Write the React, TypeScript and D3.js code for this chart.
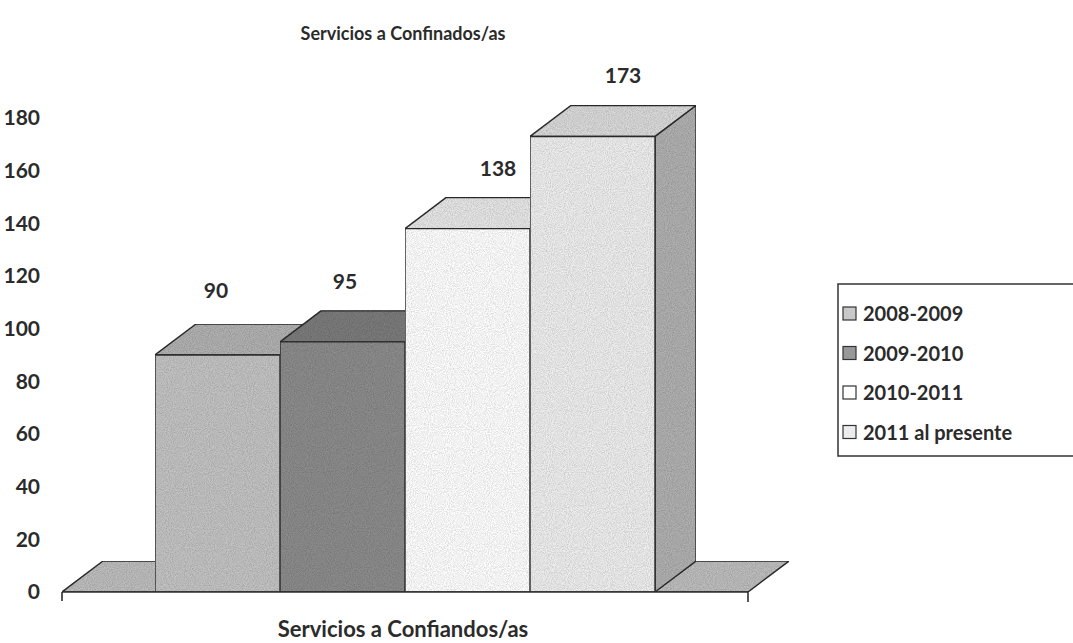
import React from 'react';
import * as d3 from 'd3';

// data
const series = ['2008-2009', '2009-2010', '2010-2011', '2011 al presente'];
const values = [90, 95, 138, 173];
const ticks = [0, 20, 40, 60, 80, 100, 120, 140, 160, 180];
const category = 'Servicios a Confiandos/as';
const title = 'Servicios a Confinados/as';

// face colours per series: front, top, side
const fronts = ['#c3c3c3', '#8c8c8c', '#ffffff', '#eeeeee'];
const tops = ['#b1b1b1', '#7b7b7b', '#e6e6e6', '#d9d9d9'];
const sides = ['#a3a3a3', '#6e6e6e', '#cfcfcf', '#b0b0b0'];
const swatches = ['#c8c8c8', '#989898', '#ffffff', '#ececec'];

const W = 1073;
const H = 643;
const font = 'Lato, "Open Sans", sans-serif';

// depth offset of the 3D boxes
const DX = 41;
const DY = -31;

const poly = d3.line().curve(d3.curveLinearClosed);

const App = () => {
  const floorLeft = 62;
  const floorRight = 748;
  const y = d3.scaleLinear().domain([0, 180]).range([592, 118]);
  const x = d3.scaleBand<string>()
    .domain(series)
    .range([floorLeft + 93, floorRight - 93])
    .padding(0);
  const bw = x.bandwidth();
  const y0 = y(0);

  // small nudges for the value labels, as Excel placed them
  const labelNudge = [-22, -18, 10, 10];

  return (
    <svg width={W} height={H} style={{ display: 'block', position: 'absolute', left: 0, top: 0 }}>
      <defs>
        <filter id="grain" x="0" y="0" width="100%" height="100%">
          <feTurbulence type="fractalNoise" baseFrequency="0.95" numOctaves="2" seed="3" result="n" />
          <feColorMatrix in="n" type="matrix"
            values="0 0 0 0 0  0 0 0 0 0  0 0 0 0 0  0.6 0 0 0 -0.18" result="na" />
          <feComposite in="na" in2="SourceGraphic" operator="in" result="nc" />
          <feMerge>
            <feMergeNode in="SourceGraphic" />
            <feMergeNode in="nc" />
          </feMerge>
        </filter>
      </defs>
      <rect width={W} height={H} fill="#fff" />

      <text x={403} y={40} textAnchor="middle" fontFamily={font} fontWeight={700}
        fontSize={18} fill="#2b2b2b">{title}</text>

      {/* y tick labels */}
      {ticks.map(t => (
        <text key={t} x={40} y={y(t)} dy="0.35em" textAnchor="end" fontFamily={font}
          fontWeight={700} fontSize={21} fill="#2b2b2b">{t}</text>
      ))}

      {/* floor */}
      <path
        d={poly([[floorLeft, y0], [floorRight, y0], [floorRight + DX, y0 + DY], [floorLeft + DX, y0 + DY]] as [number, number][]) || ''}
        fill="#bdbdbd" stroke="#2e2e2e" strokeWidth={1.4} strokeLinejoin="round" filter="url(#grain)" />

      {/* bars */}
      {series.map((s, i) => {
        const x0 = x(s) as number;
        const x1 = x0 + bw;
        const yt = y(values[i]);
        const front: [number, number][] = [[x0, y0], [x1, y0], [x1, yt], [x0, yt]];
        const top: [number, number][] = [[x0, yt], [x1, yt], [x1 + DX, yt + DY], [x0 + DX, yt + DY]];
        const side: [number, number][] = [[x1, y0], [x1 + DX, y0 + DY], [x1 + DX, yt + DY], [x1, yt]];
        return (
          <g key={s} stroke="#2e2e2e" strokeWidth={1.4} strokeLinejoin="round" filter="url(#grain)">
            <path d={poly(side) || ''} fill={sides[i]} />
            <path d={poly(top) || ''} fill={tops[i]} />
            <path d={poly(front) || ''} fill={fronts[i]} />
          </g>
        );
      })}

      {/* front floor edge with ticks */}
      <line x1={floorLeft} x2={floorRight} y1={y0} y2={y0} stroke="#2e2e2e" strokeWidth={1.6} />
      <line x1={floorLeft} x2={floorLeft} y1={y0} y2={y0 + 9} stroke="#2e2e2e" strokeWidth={1.6} />
      <line x1={floorRight} x2={floorRight} y1={y0} y2={y0 + 10} stroke="#2e2e2e" strokeWidth={1.6} />

      {/* value labels */}
      {series.map((s, i) => (
        <text key={s} x={(x(s) as number) + bw / 2 + DX / 2 + labelNudge[i]}
          y={y(values[i]) + DY - 22 + (i === 0 ? -4 : 0)} textAnchor="middle" fontFamily={font}
          fontWeight={700} fontSize={21} fill="#2b2b2b">{values[i]}</text>
      ))}

      <text x={403} y={637} textAnchor="middle" fontFamily={font} fontWeight={700}
        fontSize={22} fill="#2b2b2b">{category}</text>

      {/* legend */}
      <rect x={838} y={284} width={260} height={172} fill="#fff" stroke="#333" strokeWidth={1.5} />
      {series.map((s, i) => (
        <g key={s} transform={`translate(843, ${314 + i * 39.5})`}>
          <rect x={0} y={-7} width={13} height={13} fill={swatches[i]} stroke="#333" strokeWidth={1.2} />
          <text x={20} y={0} dy="0.35em" fontFamily={font} fontWeight={700} fontSize={20}
            fill="#2b2b2b">{s}</text>
        </g>
      ))}
    </svg>
  );
};

export default App;
